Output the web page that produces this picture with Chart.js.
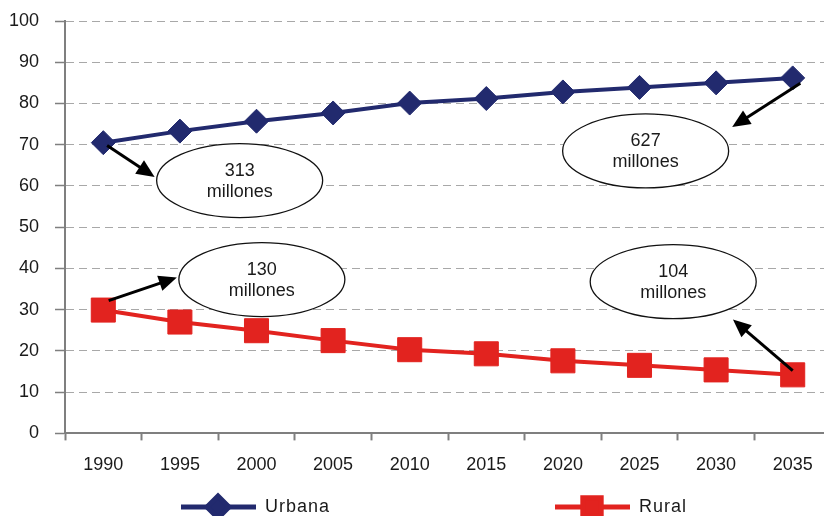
<!DOCTYPE html>
<html>
<head>
<meta charset="utf-8">
<script src="https://cdn.jsdelivr.net/npm/chart.js@4.4.0/dist/chart.umd.min.js"></script>
<style>
  html, body { margin: 0; padding: 0; background: #fff; overflow: hidden; }
  canvas { display: block; }
</style>
</head>
<body>
<canvas id="chart" width="832" height="516"></canvas>
<script>
const years = ['1990', '1995', '2000', '2005', '2010', '2015', '2020', '2025', '2030', '2035'];
const urbana = [70.5, 73.3, 75.7, 77.7, 80.1, 81.2, 82.8, 83.9, 85.0, 86.2];
const rural = [29.9, 27.0, 24.9, 22.5, 20.3, 19.3, 17.6, 16.5, 15.4, 14.2];

// burbujas: [indice x, valor y, texto]
const bubbles = [
  [1.78, 61.3, ['313', 'millones']],
  [7.08, 68.5, ['627', 'millones']],
  [2.07, 37.3, ['130', 'millones']],
  [7.44, 36.8, ['104', 'millones']]
];
// flechas: desde [x, y] hasta [x, y]
const arrows = [
  [[0.05, 69.8], [0.67, 62.2]],
  [[9.1, 84.9], [8.21, 74.3]],
  [[0.07, 32.2], [0.96, 37.8]],
  [[9.0, 15.2], [8.22, 27.6]]
];

const BLUE = '#222a6e';
const RED = '#e2231f';
const FONT = '"Liberation Sans", Arial, sans-serif';

const notes = {
  id: 'notes',
  afterDatasetsDraw(chart) {
    const ctx = chart.ctx;
    const xs = chart.scales.x, ys = chart.scales.y;
    ctx.save();
    // flechas
    arrows.forEach(([a, b]) => {
      const x1 = xs.getPixelForValue(a[0]), y1 = ys.getPixelForValue(a[1]);
      const x2 = xs.getPixelForValue(b[0]), y2 = ys.getPixelForValue(b[1]);
      const ang = Math.atan2(y2 - y1, x2 - x1);
      const hl = 18, hw = 8;
      ctx.strokeStyle = '#000';
      ctx.lineWidth = 3;
      ctx.beginPath();
      ctx.moveTo(x1, y1);
      ctx.lineTo(x2 - Math.cos(ang) * hl * 0.8, y2 - Math.sin(ang) * hl * 0.8);
      ctx.stroke();
      ctx.fillStyle = '#000';
      ctx.beginPath();
      ctx.moveTo(x2, y2);
      ctx.lineTo(x2 - Math.cos(ang) * hl - Math.sin(ang) * hw, y2 - Math.sin(ang) * hl + Math.cos(ang) * hw);
      ctx.lineTo(x2 - Math.cos(ang) * hl + Math.sin(ang) * hw, y2 - Math.sin(ang) * hl - Math.cos(ang) * hw);
      ctx.closePath();
      ctx.fill();
    });
    // burbujas
    bubbles.forEach(([bx, by, lines]) => {
      const cx = xs.getPixelForValue(bx), cy = ys.getPixelForValue(by);
      ctx.beginPath();
      ctx.ellipse(cx, cy, 83, 37, 0, 0, Math.PI * 2);
      ctx.fillStyle = '#fff';
      ctx.fill();
      ctx.lineWidth = 1.3;
      ctx.strokeStyle = '#111';
      ctx.stroke();
      ctx.fillStyle = '#1a1a1a';
      ctx.font = '18px ' + FONT;
      ctx.textAlign = 'center';
      ctx.textBaseline = 'middle';
      ctx.fillText(lines[0], cx, cy - 10);
      ctx.fillText(lines[1], cx, cy + 11);
    });
    ctx.restore();
  }
};

const legendBottom = {
  id: 'legendBottom',
  afterDraw(chart) {
    const ctx = chart.ctx;
    const items = [
      { ds: chart.data.datasets[0], x: 181, y: 507 },
      { ds: chart.data.datasets[1], x: 555, y: 507 }
    ];
    ctx.save();
    items.forEach(it => {
      ctx.strokeStyle = it.ds.borderColor;
      ctx.lineWidth = 5;
      ctx.beginPath();
      ctx.moveTo(it.x, it.y);
      ctx.lineTo(it.x + 75, it.y);
      ctx.stroke();
      ctx.fillStyle = it.ds.pointBackgroundColor;
      ctx.strokeStyle = it.ds.pointBorderColor;
      Chart.helpers.drawPoint(ctx, {
        pointStyle: it.ds.pointStyle,
        radius: it.ds.pointStyle === 'rect' ? 13 : 11,
        rotation: 0,
        borderWidth: 1
      }, it.x + 37, it.y);
      ctx.fillStyle = '#1a1a1a';
      ctx.font = '18px ' + FONT;
      ctx.letterSpacing = '1px';
      ctx.textAlign = 'left';
      ctx.textBaseline = 'middle';
      ctx.fillText(it.ds.label, it.x + 84, it.y);
    });
    ctx.restore();
  }
};

new Chart(document.getElementById('chart'), {
  type: 'line',
  data: {
    labels: years,
    datasets: [
      {
        label: 'Urbana',
        data: urbana,
        borderColor: BLUE,
        borderWidth: 4,
        pointStyle: 'rectRot',
        pointRadius: 12,
        pointBackgroundColor: BLUE,
        pointBorderColor: BLUE,
        pointBorderWidth: 1,
        tension: 0
      },
      {
        label: 'Rural',
        data: rural,
        borderColor: RED,
        borderWidth: 4,
        pointStyle: 'rect',
        pointRadius: 17,
        pointBackgroundColor: RED,
        pointBorderColor: RED,
        pointBorderWidth: 1,
        tension: 0
      }
    ]
  },
  options: {
    responsive: false,
    animation: false,
    layout: { autoPadding: false, padding: { left: 0, right: 1, top: 21, bottom: 26 } },
    plugins: {
      legend: { display: false },
      tooltip: { enabled: false }
    },
    scales: {
      x: {
        offset: true,
        grid: {
          offset: true,
          drawOnChartArea: false,
          drawTicks: true,
          tickLength: 7,
          tickColor: '#7f7f7f',
          tickWidth: 2
        },
        border: { color: '#7f7f7f', width: 2 },
        ticks: {
          color: '#1a1a1a',
          padding: 14,
          font: { family: FONT, size: 18 }
        }
      },
      y: {
        min: 0,
        max: 100,
        afterFit(scale) {
          scale.width = 65;
          scale.paddingTop = 0;
          scale.paddingBottom = 0;
        },
        ticks: {
          stepSize: 10,
          color: '#1a1a1a',
          padding: 16,
          font: { family: FONT, size: 18 }
        },
        grid: {
          color: '#a8a8a8',
          lineWidth: 1,
          tickLength: 10,
          tickColor: '#7f7f7f',
          tickWidth: 1.5,
          tickBorderDash: []
        },
        border: { color: '#7f7f7f', width: 2, dash: [8, 5] }
      }
    }
  },
  plugins: [notes, legendBottom]
});
</script>
</body>
</html>
